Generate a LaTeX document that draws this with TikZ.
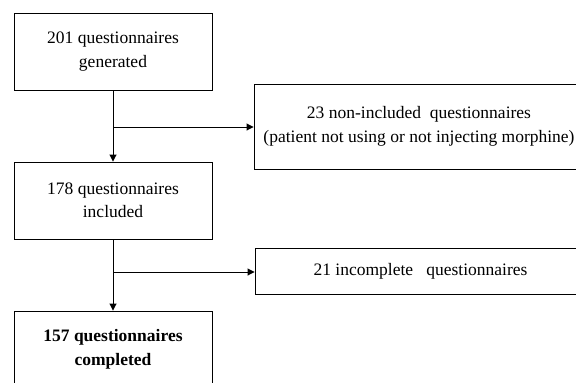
\documentclass[tikz,border=0pt]{standalone}
\usepackage{fontspec}
\setmainfont{Liberation Serif}
\usetikzlibrary{arrows.meta}
\tikzset{
  box/.style={draw, line width=0.9pt, align=center, inner sep=0pt,
    font=\fontsize{17.5}{23.5}\selectfont},
  conn/.style={line width=0.9pt, -{Triangle[length=7pt,width=7pt]}},
}
\begin{document}
\begin{tikzpicture}[x=1pt,y=-1pt]
\useasboundingbox (0,0) rectangle (576,383);
\clip (0,0) rectangle (576,383);
\node[box, minimum width=198pt, minimum height=77pt] (b1) at (113,51.5) {201 questionnaires\\generated};
\node[box, minimum width=198pt, minimum height=77pt] (b2) at (113,200.5) {178 questionnaires\\included};
\node[box, minimum width=198pt, minimum height=77pt] (b3) at (113,349.5) {\bfseries 157 questionnaires\\\bfseries completed};
\node[box, minimum width=330pt, minimum height=85pt] (r1) at (419,126.5) {23 non-included\ \ questionnaires\\(patient not using\ or not injecting\ morphine)};
\node[box, minimum width=331pt, minimum height=46pt] (r2) at (420.5,271) {21 incomplete\ \ \ questionnaires};
\coordinate (j1) at (113,127);
\coordinate (j2) at (113,272);
\draw[conn] (b1.south) -- (b2.north);
\draw[conn] (b2.south) -- (b3.north);
\draw[conn] (j1) -- (j1 -| r1.west);
\draw[conn] (j2) -- (j2 -| r2.west);
\end{tikzpicture}
\end{document}
